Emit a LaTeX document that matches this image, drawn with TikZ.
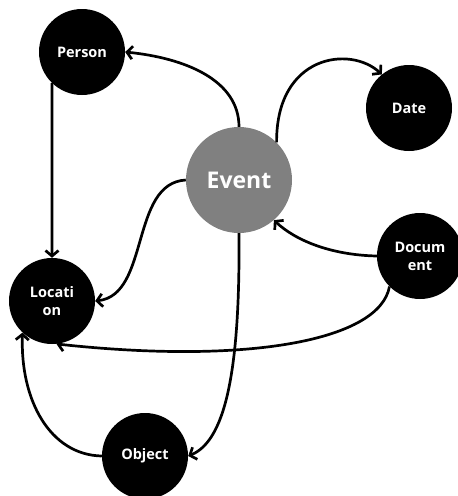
\documentclass[tikz,border=0pt]{standalone}
\usepackage{fontspec}
\setmainfont{Open Sans}
\usetikzlibrary{arrows.meta}
\begin{document}
\begin{tikzpicture}[x=1pt,y=-1pt,
  ent/.style={circle,fill=black,minimum size=86pt,inner sep=0pt,text=white,
    font=\fontsize{14.5}{18}\selectfont\bfseries,align=center},
  evt/.style={circle,fill=gray,minimum size=106pt,inner sep=0pt,text=white,
    font=\fontsize{23}{26}\selectfont\bfseries},
  link/.style={line width=2.7pt,-{Straight Barb[length=5.5pt,width=13pt,line width=2.7pt]}}]
\useasboundingbox (0,0) rectangle (458,496);
\node[ent] (pe) at (82,52) {Person};
\node[ent] (da) at (409,108) {Date};
\node[evt] (ev) at (239,180) {Event};
\node[ent] (do) at (420,256) {Docum\\ent};
\node[ent] (lo) at (52,301) {Locati\\on};
\node[ent] (ob) at (145,456) {Object};
\draw[link] (ev.north) .. controls (239,80) and (185,58) .. (pe.east);
\draw[link] (ev.45) .. controls (276,55) and (350,45) .. (da.129);
\draw[link] (pe.226) -- (lo.north);
\draw[link] (ev.west) .. controls (130,183) and (150,295) .. (lo.east);
\draw[link] (do.west) .. controls (330,255) and (295,240) .. (ev.-49);
\draw[link] (do.225) .. controls (380,340) and (250,365) .. (lo.-84);
\draw[link] (ev.south) .. controls (240,360) and (228,440) .. (ob.east);
\draw[link] (ob.west) .. controls (50,455) and (20,400) .. (lo.227);
\end{tikzpicture}
\end{document}
